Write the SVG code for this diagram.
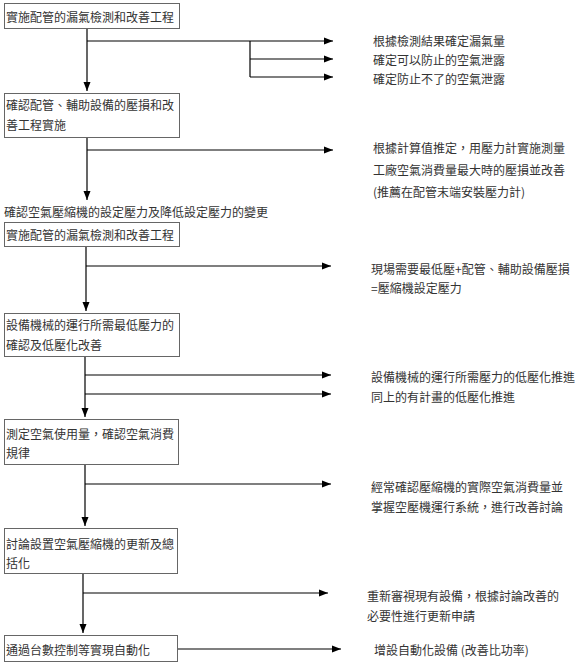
<svg xmlns="http://www.w3.org/2000/svg" width="579" height="664" viewBox="0 0 579 664">
<defs>
<marker id="ah" markerUnits="userSpaceOnUse" markerWidth="10" markerHeight="8" refX="9" refY="4" orient="auto">
<path d="M0,0.5 L9,4 L0,7.5 Z" fill="#000"/>
</marker>
<style>
.box{fill:#fff;stroke:#666;stroke-width:1}
.t{font-family:"Noto Sans CJK TC","Noto Sans CJK SC",sans-serif;font-size:12px;fill:#333;dominant-baseline:central}
.c{stroke:#000;stroke-width:1.2;fill:none}
.a{marker-end:url(#ah)}
</style>
</defs>
<rect width="579" height="664" fill="#fff"/>
<g id="connectors">
<line class="c a" x1="87" y1="28" x2="87" y2="91"/>
<line class="c a" x1="87" y1="41" x2="333" y2="41"/>
<line class="c" x1="250" y1="41" x2="250" y2="77"/>
<line class="c a" x1="250" y1="59" x2="333" y2="59"/>
<line class="c a" x1="250" y1="77" x2="333" y2="77"/>
<line class="c a" x1="87" y1="137" x2="87" y2="200"/>
<line class="c a" x1="87" y1="150" x2="333" y2="150"/>
<line class="c a" x1="86" y1="246" x2="86" y2="311"/>
<line class="c a" x1="86" y1="266" x2="331" y2="266"/>
<line class="c a" x1="85" y1="356" x2="85" y2="417"/>
<line class="c a" x1="85" y1="375" x2="331" y2="375"/>
<line class="c a" x1="85" y1="394" x2="331" y2="394"/>
<line class="c a" x1="85" y1="464" x2="85" y2="526"/>
<line class="c a" x1="85" y1="484" x2="331" y2="484"/>
<line class="c a" x1="83" y1="573" x2="83" y2="633"/>
<line class="c a" x1="83" y1="593" x2="328" y2="593"/>
<line class="c a" x1="177" y1="649" x2="341" y2="649"/>
</g>
<g id="n1"><rect class="box" x="4.5" y="3.5" width="175" height="25"/><text class="t" x="6" y="16">實施配管的漏氣檢測和改善工程</text></g>
<g id="n1r"><text class="t" x="373" y="40">根據檢測結果確定漏氣量</text><text class="t" x="373" y="59">確定可以防止的空氣泄露</text><text class="t" x="373" y="78">確定防止不了的空氣泄露</text></g>
<g id="n2"><rect class="box" x="4.5" y="93.5" width="175" height="44"/><text class="t" x="6" y="104">確認配管、輔助設備的壓損和改</text><text class="t" x="6" y="124">善工程實施</text></g>
<g id="n2r"><text class="t" x="373" y="147">根據計算值推定，用壓力計實施測量</text><text class="t" x="373" y="169">工廠空氣消費量最大時的壓損並改善</text><text class="t" x="373" y="191">(推薦在配管末端安裝壓力計)</text></g>
<g id="heading"><text class="t" x="4" y="211">確認空氣壓縮機的設定壓力及降低設定壓力的變更</text></g>
<g id="n3"><rect class="box" x="4.5" y="222.5" width="175" height="24"/><text class="t" x="6" y="234">實施配管的漏氣檢測和改善工程</text></g>
<g id="n3r"><text class="t" x="371" y="268">現場需要最低壓+配管、輔助設備壓損</text><text class="t" x="371" y="287">=壓縮機設定壓力</text></g>
<g id="n4"><rect class="box" x="4.5" y="313.5" width="175" height="43"/><text class="t" x="6" y="324">設備機械的運行所需最低壓力的</text><text class="t" x="6" y="344">確認及低壓化改善</text></g>
<g id="n4r"><text class="t" x="371" y="376">設備機械的運行所需壓力的低壓化推進</text><text class="t" x="371" y="396">同上的有計畫的低壓化推進</text></g>
<g id="n5"><rect class="box" x="4.5" y="419.5" width="174" height="45"/><text class="t" x="6" y="433">測定空氣使用量，確認空氣消費</text><text class="t" x="6" y="452">規律</text></g>
<g id="n5r"><text class="t" x="371" y="486">經常確認壓縮機的實際空氣消費量並</text><text class="t" x="371" y="506">掌握空壓機運行系統，進行改善討論</text></g>
<g id="n6"><rect class="box" x="4.5" y="528.5" width="173" height="45"/><text class="t" x="6" y="543">討論設置空氣壓縮機的更新及總</text><text class="t" x="6" y="562">括化</text></g>
<g id="n6r"><text class="t" x="367" y="595">重新審視現有設備，根據討論改善的</text><text class="t" x="367" y="615">必要性進行更新申請</text></g>
<g id="n7"><rect class="box" x="4.5" y="635.5" width="173" height="26"/><text class="t" x="6" y="649">通過台數控制等實現自動化</text></g>
<g id="n7r"><text class="t" x="374" y="649">增設自動化設備 (改善比功率)</text></g>
</svg>
